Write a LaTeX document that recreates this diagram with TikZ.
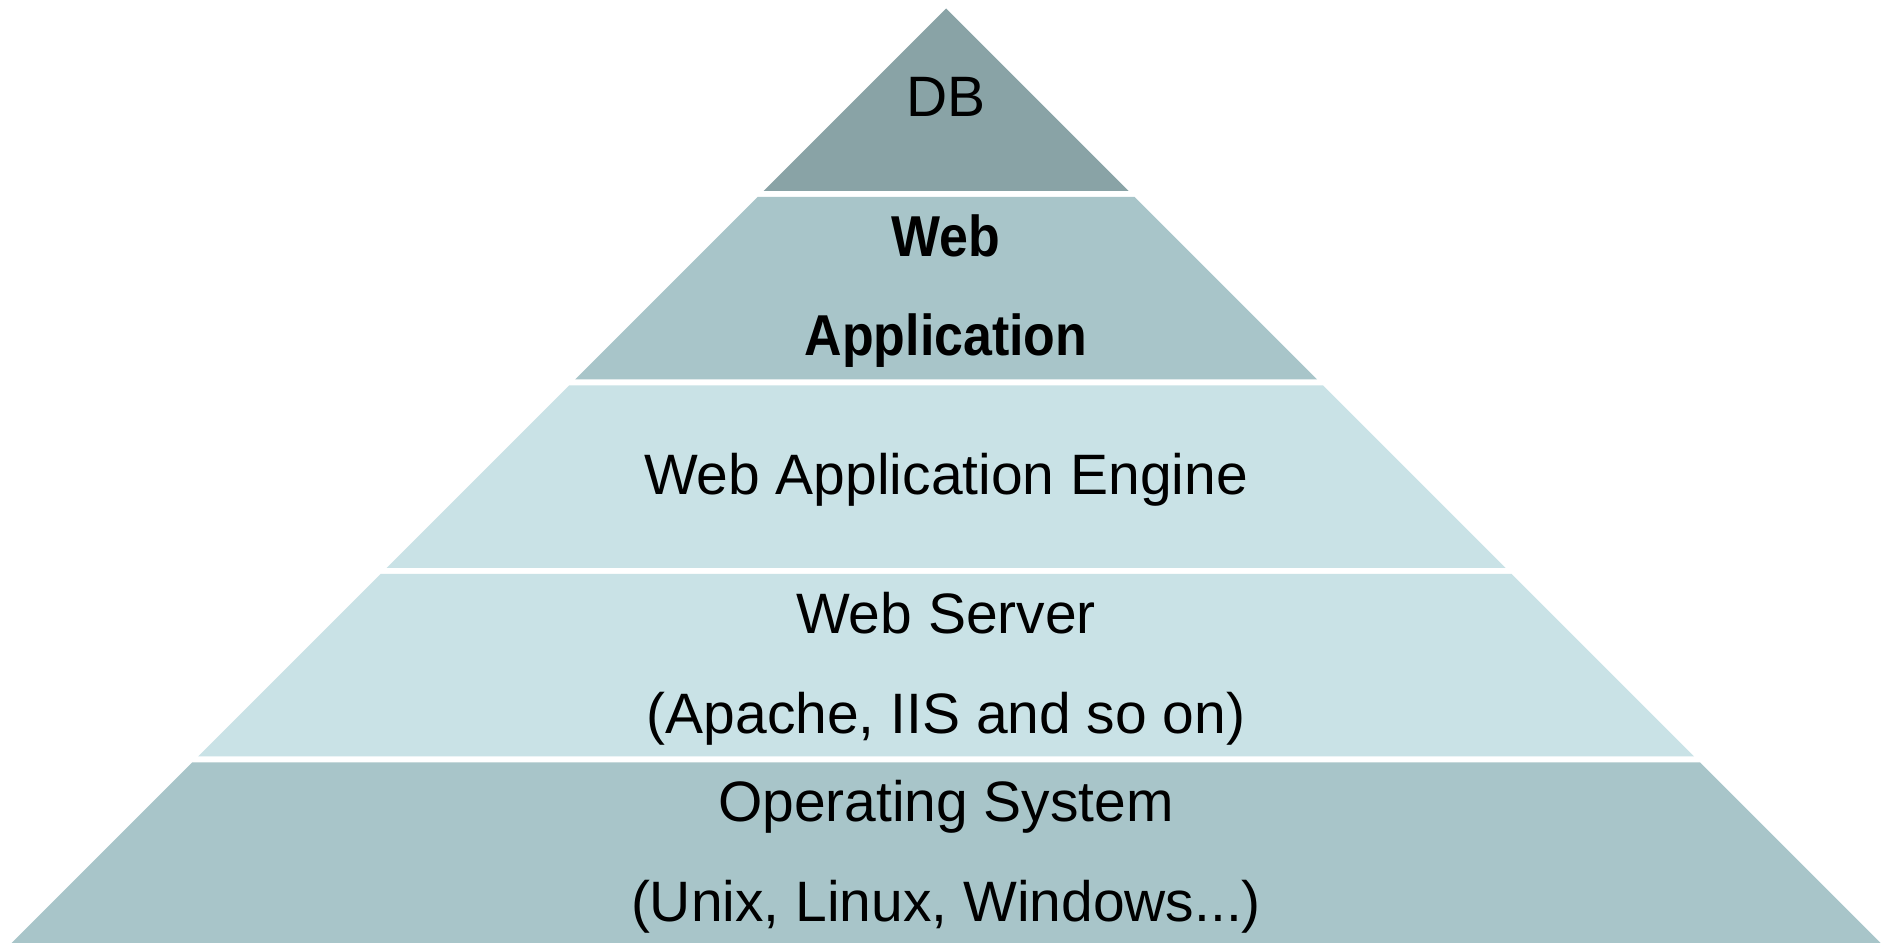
\documentclass[tikz,border=0pt]{standalone}
\usepackage{fontspec}
\setmainfont{Liberation Sans}
\newfontfamily\narrowfont{Liberation Sans}[FakeStretch=0.9]

\definecolor{tierdark}{HTML}{89A3A6}
\definecolor{tiermid}{HTML}{A8C5C9}
\definecolor{tierlight}{HTML}{C9E2E6}

% pyramid: apex at (946, 8.5), 45-degree sides, tiers 182.5 tall, 6 apart
\newcommand{\tier}[3]{% #1 top y, #2 bottom y, #3 colour
  \fill[#3] ({946-(#1-8.5)},#1) -- ({946+(#1-8.5)},#1)
    -- ({946+(#2-8.5)},#2) -- ({946-(#2-8.5)},#2) -- cycle;}

\tikzset{
  label/.style={anchor=base, inner sep=0pt, font=\fontsize{16.2pt}{20pt}\selectfont},
  boldlabel/.style={anchor=base, inner sep=0pt, font=\narrowfont\bfseries\fontsize{16.4pt}{20pt}\selectfont}
}

\begin{document}
\begin{tikzpicture}[x=0.01cm, y=-0.01cm]
  \useasboundingbox (0,0) rectangle (1887,943);
  \fill[white] (0,0) rectangle (1887,943);
  \clip (0,0) rectangle (1887,943);

  % tiers, top to bottom
  \tier{8.5}{191}{tierdark}
  \tier{197}{379.5}{tiermid}
  \tier{385.5}{568}{tierlight}
  \tier{574}{756.5}{tierlight}
  \tier{762.5}{945}{tiermid}

  % tier labels
  \node[label] (db) at (946,117) {DB};
  \node[boldlabel] (wa1) at (946,257) {Web};
  \node[boldlabel] (wa2) at (946,356) {Application};
  \node[label] (engine) at (946,494.5) {Web Application Engine};
  \node[label] (ws1) at (946,634) {Web Server};
  \node[label] (ws2) at (946,734) {(Apache, IIS and so on)};
  \node[label] (os1) at (946,821.7) {Operating System};
  \node[label] (os2) at (946,921.7) {(Unix, Linux, Windows...)};
\end{tikzpicture}
\end{document}
